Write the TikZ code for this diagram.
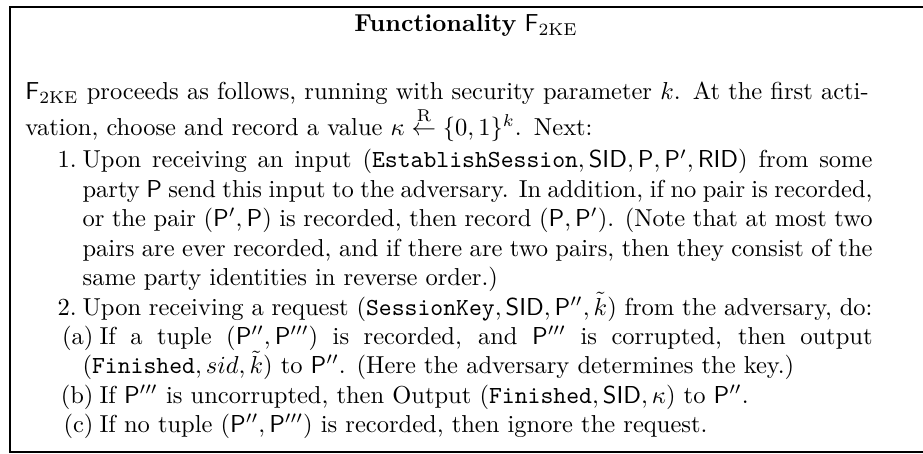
\documentclass[tikz,border=0pt]{standalone}
\usepackage{amsmath}
\usepackage{amsfonts}
\usepackage{amssymb}
\usepackage{tikz}

\begin{document}
\begin{tikzpicture}[x=0.408pt,y=0.408pt]
\tikzstyle{every node}+=[inner sep=0pt]
\useasboundingbox (0,0) rectangle (923,-454);
\draw [black, line width=0.8pt] (923,-7) -- (10,-7) -- (10,-452) -- (923,-452);
\node (title) [anchor=base] at (466,-32) {\textbf{Functionality} $\mathsf{F}_{\mathrm{2KE}}$};
\node (intro) [anchor=base west, text width=345.6pt] at (25,-100) {%
$\mathsf{F}_{\mathrm{2KE}}$ proceeds as follows, running with security parameter $k$. At the first acti-\linebreak
vation, choose and record a value $\kappa \stackrel{\mathrm{R}}{\leftarrow} \{0,1\}^k$. Next:};
\node (steps) [anchor=base west] at (25,-168) {\begin{minipage}[t]{345.6pt}
\begin{list}{\arabic{enumi}.}{\usecounter{enumi}\setlength{\leftmargin}{23.3pt}%
  \setlength{\labelsep}{2.45pt}\setlength{\labelwidth}{20pt}%
  \setlength{\topsep}{0pt}\setlength{\itemsep}{0pt}\setlength{\parsep}{0pt}}
\item Upon receiving an input $(\texttt{EstablishSession}, \mathsf{SID}, \mathsf{P}, \mathsf{P}', \mathsf{RID})$ from some\linebreak
party $\mathsf{P}$ send this input to the adversary. In addition, if no pair is recorded,\linebreak
or the pair $(\mathsf{P}', \mathsf{P})$ is recorded, then record $(\mathsf{P}, \mathsf{P}')$. (Note that at most two\linebreak
pairs are ever recorded, and if there are two pairs, then they consist of the\linebreak
same party identities in reverse order.)
\item Upon receiving a request $(\texttt{SessionKey}, \mathsf{SID}, \mathsf{P}'', \tilde{k})$ from the adversary, do:
  \begin{list}{(\alph{enumii})}{\usecounter{enumii}\setlength{\leftmargin}{0pt}%
    \setlength{\itemindent}{6.9pt}\setlength{\labelsep}{2.45pt}\setlength{\labelwidth}{15pt}%
    \setlength{\topsep}{0pt}\setlength{\itemsep}{0pt}\setlength{\parsep}{0pt}}
  \item If a tuple $(\mathsf{P}'', \mathsf{P}''')$ is recorded, and $\mathsf{P}'''$ is corrupted, then output\linebreak
  $(\texttt{Finished}, sid, \tilde{k})$ to $\mathsf{P}''$. (Here the adversary determines the key.)
  \item If $\mathsf{P}'''$ is uncorrupted, then Output $(\texttt{Finished}, \mathsf{SID}, \kappa)$ to $\mathsf{P}''$.
  \item If no tuple $(\mathsf{P}'', \mathsf{P}''')$ is recorded, then ignore the request.
  \end{list}
\end{list}
\end{minipage}};
\end{tikzpicture}
\end{document}
